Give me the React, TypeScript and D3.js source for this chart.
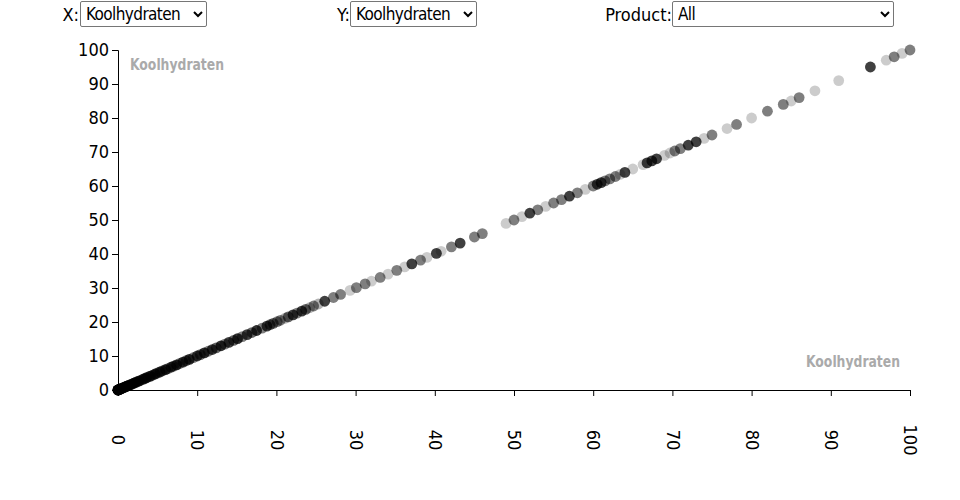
import React, { useEffect, useRef } from "react";
import * as d3 from "d3";

const FONT = "'DejaVu Sans Condensed', 'Liberation Sans Narrow', sans-serif";

const nutrients = ["Koolhydraten", "Eiwitten", "Vetten", "Energie", "Vezels", "Suikers"];
const products = ["All"];
const xTicks = [0, 10, 20, 30, 40, 50, 60, 70, 80, 90, 100];
const yTicks = [0, 10, 20, 30, 40, 50, 60, 70, 80, 90, 100];

// Koolhydraten value of each product (x and y are the same nutrient)
const carbs = [
  0, 0, 0, 0, 0, 0.1, 0.1, 0.2, 0.2, 0.3, 0.4, 0.5, 0.5, 0.6, 0.7, 0.8, 0.9, 1, 1.1, 1.2,
  1.3, 1.5, 1.6, 1.8, 2, 2.1, 2.3, 2.5, 2.7, 3, 3.2, 3.4, 3.6, 3.9, 4.1, 4.4, 4.7, 5, 5.3, 5.6,
  6, 6.3, 6.7, 7, 7.4, 7.8, 8.2, 8.6, 9, 9.5, 10, 10.4, 10.9, 11.4, 11.9, 12.4, 13, 13.5, 14, 14.6,
  15.1, 15.7, 16.3, 16.9, 17.5, 18.2, 18.8, 19.2, 19.6, 20.5, 21.5, 22.6, 23.7, 24.7,
  20.1, 21.1, 22.1, 23.2, 24.2, 25.3, 26.1, 27.2, 28.1, 29.3, 30.1, 31.2, 32, 33.1, 34.1, 35.2,
  36.2, 37.1, 38.2, 39, 40.2, 40.8, 42.1, 43.2, 45, 46, 49, 50, 51, 52, 53, 54, 55, 56, 57, 58,
  59, 60, 60.5, 61, 61.5, 62.1, 62.8, 63.4, 64, 65, 66.3, 66.8, 67.4, 68, 69, 69.7, 70.3, 71, 72, 73,
  74, 75, 76.9, 78.1, 80, 82, 84, 85, 86, 88, 91, 95, 97, 98, 99, 100,
];

// opacity of each product's dot
const shade = [
  0.8, 0.5, 0.75, 0.6, 0.8, 0.5, 0.75, 0.6, 0.8, 0.5, 0.75, 0.6, 0.8, 0.5, 0.75, 0.6, 0.8, 0.5, 0.75, 0.6,
  0.8, 0.5, 0.75, 0.6, 0.8, 0.5, 0.75, 0.6, 0.8, 0.5, 0.75, 0.6, 0.8, 0.5, 0.75, 0.6, 0.8, 0.5, 0.75, 0.6,
  0.8, 0.5, 0.75, 0.6, 0.8, 0.5, 0.75, 0.6, 0.8, 0.5, 0.75, 0.6, 0.8, 0.5, 0.75, 0.6, 0.8, 0.5, 0.75, 0.6,
  0.8, 0.5, 0.75, 0.6, 0.8, 0.5, 0.75, 0.6, 0.6, 0.5, 0.6, 0.5, 0.6, 0.5,
  0.5, 0.3, 0.75, 0.75, 0.3, 0.3, 0.75, 0.5, 0.5, 0.2, 0.5, 0.5, 0.2, 0.5, 0.2, 0.5,
  0.2, 0.75, 0.5, 0.2, 0.75, 0.2, 0.5, 0.75, 0.5, 0.5, 0.2, 0.5, 0.2, 0.75, 0.5, 0.2, 0.5, 0.5, 0.75, 0.5,
  0.2, 0.5, 0.75, 0.75, 0.5, 0.5, 0.5, 0.2, 0.75, 0.2, 0.2, 0.75, 0.75, 0.75, 0.2, 0.2, 0.5, 0.5, 0.75, 0.75,
  0.2, 0.5, 0.2, 0.5, 0.2, 0.5, 0.5, 0.2, 0.5, 0.2, 0.2, 0.75, 0.2, 0.5, 0.2, 0.5,
];

const W = 960;
const H = 500;
const margin = { left: 118, right: 50, top: 50, bottom: 110 };

export default function App() {
  const axRef = useRef<SVGGElement>(null);

  const x = d3.scaleLinear().domain([0, 100]).range([margin.left, W - margin.right]);
  const y = d3.scaleLinear().domain([0, 100]).range([H - margin.bottom, margin.top]);

  useEffect(() => {
    const g = d3.select(axRef.current);
    g.selectAll("*").remove();
    const gx = g
      .append("g")
      .attr("transform", `translate(0,${H - margin.bottom})`)
      .call(d3.axisBottom(x).tickValues(xTicks).tickFormat(d3.format("d")));
    gx.attr("font-family", FONT).attr("font-size", 18);
    gx.selectAll(".tick text")
      .attr("transform", "rotate(90)")
      .attr("x", 50)
      .attr("y", 0)
      .attr("dy", "0.35em")
      .attr("text-anchor", "middle");
    const gy = g
      .append("g")
      .attr("transform", `translate(${margin.left},0)`)
      .call(d3.axisLeft(y).tickValues(yTicks).tickFormat(d3.format("d")));
    gy.attr("font-family", FONT).attr("font-size", 18);
  }, []);

  const labelStyle: React.CSSProperties = {
    position: "absolute",
    fontFamily: FONT,
    fontSize: 18,
    top: 5,
    lineHeight: "20px",
    textAlign: "right",
  };
  const selStyle: React.CSSProperties = {
    position: "absolute",
    top: 1,
    height: 26,
    fontFamily: FONT,
    fontSize: 17,
    letterSpacing: "-0.6px",
    background: "white",
    border: "1px solid #767676",
    borderRadius: 2,
    padding: "0 0 0 1px",
    color: "black",
  };

  return (
    <div style={{ position: "absolute", left: 0, top: 0, width: W, height: H, background: "white" }}>
      <svg width={W} height={H} style={{ position: "absolute", left: 0, top: 0 }}>
        <g ref={axRef} />
        <g>
          {carbs.map((v, i) => (
            <circle key={i} cx={x(v)} cy={y(v)} r={5.4} fill="black" fillOpacity={shade[i]} />
          ))}
        </g>
        <text x={130} y={70} fontFamily={FONT} fontSize={16} fontWeight="bold" fill="#aaa"
          textLength={94} lengthAdjust="spacingAndGlyphs">
          Koolhydraten
        </text>
        <text x={806} y={367} fontFamily={FONT} fontSize={16} fontWeight="bold" fill="#aaa"
          textLength={94} lengthAdjust="spacingAndGlyphs">
          Koolhydraten
        </text>
      </svg>
      <span style={{ ...labelStyle, left: 0, width: 79 }}>X:</span>
      <select style={{ ...selStyle, left: 80, width: 127 }} defaultValue="Koolhydraten">
        {nutrients.map((n) => (
          <option key={n}>{n}</option>
        ))}
      </select>
      <span style={{ ...labelStyle, left: 300, width: 50 }}>Y:</span>
      <select style={{ ...selStyle, left: 350, width: 127 }} defaultValue="Koolhydraten">
        {nutrients.map((n) => (
          <option key={n}>{n}</option>
        ))}
      </select>
      <span style={{ ...labelStyle, left: 560, width: 112 }}>Product:</span>
      <select style={{ ...selStyle, left: 672, width: 222 }} defaultValue="All">
        {products.map((n) => (
          <option key={n}>{n}</option>
        ))}
      </select>
    </div>
  );
}
